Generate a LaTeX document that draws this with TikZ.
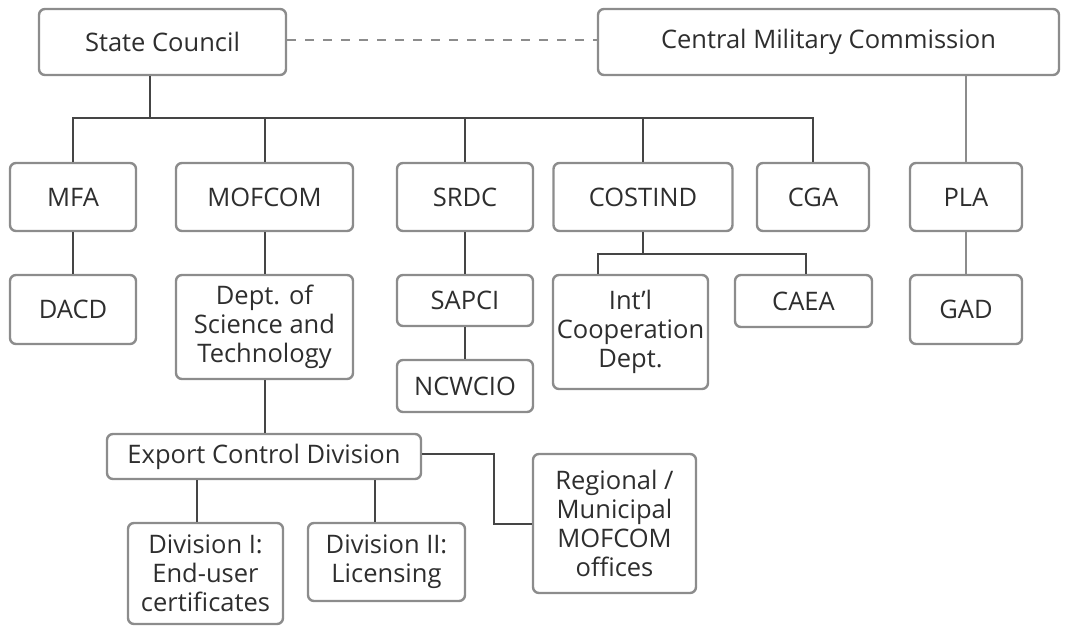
\documentclass[tikz,border=0pt]{standalone}
\usepackage{fontspec}
\setmainfont{Open Sans}
\usetikzlibrary{calc}
\definecolor{boxline}{HTML}{8C8C8C}
\definecolor{conn}{HTML}{454545}
\definecolor{txt}{HTML}{2E2E2E}
\begin{document}
\begin{tikzpicture}[x=1pt,y=-1pt,
  box/.style={draw=boxline, line width=2.4pt, rounded corners=6pt, fill=white,
    text=txt, align=center, inner sep=1pt,
    font=\fontsize{25.5}{29}\selectfont},
  link/.style={draw=conn, line width=2pt}]
\useasboundingbox (0,0) rectangle (1069,635);
% top
\node[box, minimum width=247, minimum height=66] (sc) at (162.5,42) {State Council};
\node[box, minimum width=461, minimum height=66] (cmc) at (828.5,42) {Central Military Commission};
% row 2
\node[box, minimum width=126, minimum height=68] (mfa) at (73,197) {MFA};
\node[box, minimum width=177, minimum height=68] (mofcom) at (264.5,197) {MOFCOM};
\node[box, minimum width=136, minimum height=68] (srdc) at (465,197) {SRDC};
\node[box, minimum width=179, minimum height=68] (costind) at (643,197) {COSTIND};
\node[box, minimum width=112, minimum height=68] (cga) at (813,197) {CGA};
\node[box, minimum width=112, minimum height=68] (pla) at (966,197) {PLA};
% row 3
\node[box, minimum width=126, minimum height=69] (dacd) at (73,309.5) {DACD};
\node[box, minimum width=177, minimum height=104] (dept) at (264.5,327) {Dept. of\\Science and\\Technology};
\node[box, minimum width=136, minimum height=51] (sapci) at (465,300.5) {SAPCI};
\node[box, minimum width=136, minimum height=52] (ncwcio) at (465,386) {NCWCIO};
\node[box, minimum width=155, minimum height=114] (intl) at (630.5,332) {Int’l\\Cooperation\\Dept.};
\node[box, minimum width=137, minimum height=52] (caea) at (803.5,301) {CAEA};
\node[box, minimum width=112, minimum height=69] (gad) at (966,309.5) {GAD};
% row 4
\node[box, minimum width=314, minimum height=45] (ecd) at (264,456.5) {Export Control Division};
\node[box, minimum width=155, minimum height=101] (div1) at (205.5,573.5) {Division I:\\End-user\\certificates};
\node[box, minimum width=157, minimum height=78] (div2) at (386.5,562) {Division II:\\Licensing};
\node[box, minimum width=163, minimum height=139] (reg) at (614.5,523.5) {Regional /\\Municipal\\MOFCOM\\offices};
% junction coordinates
\coordinate (j0) at (150,118);
\coordinate (k0) at (643,254);
\coordinate (k1) at (598,254);
\coordinate (k2) at (806,254);
\coordinate (m1) at (197,500);
\coordinate (m2) at (375,500);
\coordinate (r0) at (494,500);
% connectors
\draw[link, dash pattern=on 9pt off 9pt, draw=boxline] ($(sc.east)+(0,-2)$) -- ($(cmc.west)+(0,-2)$);
\draw[link] (j0 |- sc.south) -- (j0);
\draw[link] (mfa.north) |- (j0) -| (cga.north);
\draw[link] (mofcom.north) -- (mofcom.north |- j0);
\draw[link] (srdc.north) -- (srdc.north |- j0);
\draw[link] (costind.north) -- (costind.north |- j0);
\draw[link, draw=boxline] (pla.north) -- (pla.north |- cmc.south);
\draw[link] (mfa.south) -- (dacd.north);
\draw[link] (mofcom.south) -- (dept.north);
\draw[link] (srdc.south) -- (sapci.north);
\draw[link] (sapci.south) -- (ncwcio.north);
\draw[link] (costind.south) -- (k0);
\draw[link] (k1 |- intl.north) -- (k1) -- (k2) -- (k2 |- caea.north);
\draw[link, draw=boxline] (pla.south) -- (gad.north);
\draw[link] (dept.south) -- (dept.south |- ecd.north);
\draw[link] (m1 |- ecd.south) -- (m1 |- div1.north);
\draw[link] (m2 |- ecd.south) -- (m2 |- div2.north);
\draw[link] ($(ecd.east)+(0,-2.5)$) -| (r0) |- (reg.west);
\end{tikzpicture}
\end{document}
